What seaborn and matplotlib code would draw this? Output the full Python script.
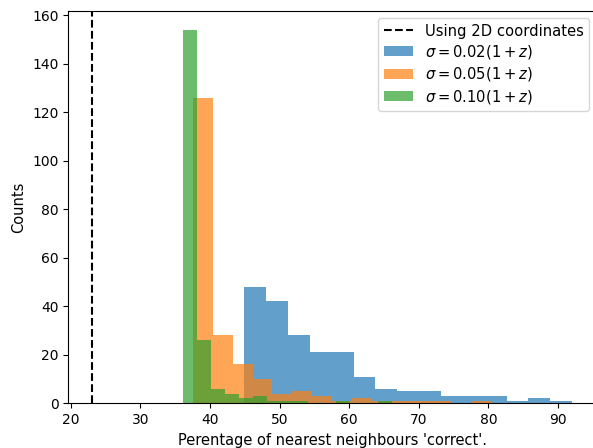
import numpy as np
import pandas as pd
import matplotlib
matplotlib.use("Agg")
import matplotlib.pyplot as plt
import seaborn as sns

# Histogram counts per bin (15 bins each)
counts_002 = [48, 42, 28, 21, 21, 11, 6, 5, 5, 3, 3, 3, 1, 2, 1]
counts_005 = [126, 28, 16, 10, 4, 5, 3, 1, 2, 1, 1, 1, 1, 0, 1]
counts_010 = [154, 26, 6, 4, 2, 3, 1, 1, 1, 0, 0, 1, 0, 0, 1]

# Bin ranges (min, max) of each histogram
range_002 = [44.93, 92.05]
range_005 = [37.56, 80.35]
range_010 = [36.16, 66.16]

labels = [r"$\sigma = 0.02(1+z)$", r"$\sigma = 0.05(1+z)$", r"$\sigma = 0.10(1+z)$"]
colors = ["#1f77b4", "#ff7f0e", "#2ca02c"]

line_x = 23.1
line_label = "Using 2D coordinates"

n_bins = 15

fig = plt.figure(figsize=(5.93, 4.48), dpi=100)
ax = fig.add_axes([0.1152, 0.0998, 0.8902, 0.8756])

ax.axvline(line_x, color="black", linestyle="--", linewidth=1.5, label=line_label)

for counts, rng, lab, col in zip([counts_002, counts_005, counts_010],
                                 [range_002, range_005, range_010],
                                 labels, colors):
    edges = np.linspace(rng[0], rng[1], n_bins + 1)
    centers = (edges[:-1] + edges[1:]) / 2
    df = pd.DataFrame({"x": centers, "w": counts})
    sns.histplot(data=df, x="x", weights="w", bins=n_bins, binrange=tuple(rng),
                 color=col, alpha=0.7, linewidth=0, edgecolor="none",
                 label=lab, ax=ax)

ax.set_xlim(19.65, 95.5)
ax.set_ylim(0, 161.7)
ax.set_xlabel("Perentage of nearest neighbours 'correct'.", fontsize=10.5)
ax.set_ylabel("Counts", fontsize=10.5)
ax.legend(loc="upper right", fontsize=10.6, labelspacing=0.3, borderpad=0.35)

fig.savefig("out.png", dpi=100)
